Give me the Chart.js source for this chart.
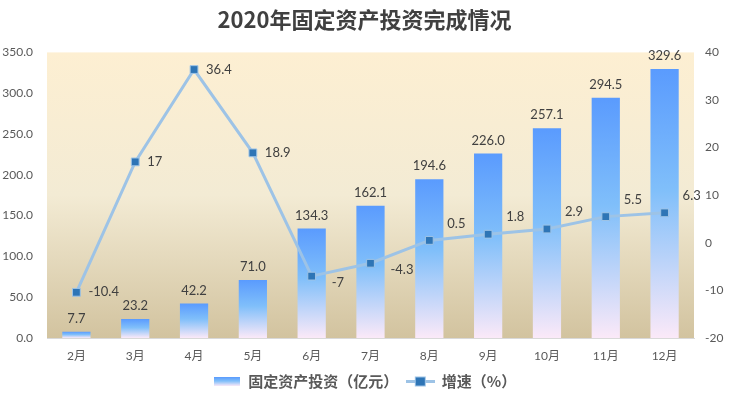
<!DOCTYPE html>
<html>
<head>
<meta charset="utf-8">
<script src="https://cdn.jsdelivr.net/npm/chart.js@4/dist/chart.umd.min.js"></script>
<style>
  html, body { margin: 0; padding: 0; background: #ffffff; }
  #wrap { width: 729px; height: 401px; }
</style>
</head>
<body>
<div id="wrap"><canvas id="chart" width="729" height="401"></canvas></div>
<script>
const months = ["2月", "3月", "4月", "5月", "6月", "7月", "8月", "9月", "10月", "11月", "12月"];
const investment = [7.7, 23.2, 42.2, 71.0, 134.3, 162.1, 194.6, 226.0, 257.1, 294.5, 329.6];
const growth = [-10.4, 17, 36.4, 18.9, -7, -4.3, 0.5, 1.8, 2.9, 5.5, 6.3];
const leftTicks = [0, 50, 100, 150, 200, 250, 300, 350];
const rightTicks = [-20, -10, 0, 10, 20, 30, 40];

const cjk = '"Noto Sans CJK SC", sans-serif';
const numFont = 'Lato, "Noto Sans CJK SC", sans-serif';

function barGradient(ctx, top, bottom) {
    const g = ctx.createLinearGradient(0, top, 0, bottom);
    g.addColorStop(0, "#5a9bfe");
    g.addColorStop(0.45, "#80bffa");
    g.addColorStop(1, "#fbe9f8");
    return g;
}

// legend swatches
function barSwatch() {
    const c = document.createElement("canvas");
    c.width = 26; c.height = 9;
    const x = c.getContext("2d");
    x.fillStyle = barGradient(x, 0, 9);
    x.fillRect(0, 0, 26, 9);
    return c;
}
function lineSwatch() {
    const c = document.createElement("canvas");
    c.width = 29; c.height = 11;
    const x = c.getContext("2d");
    x.strokeStyle = "#9dc3e6";
    x.lineWidth = 3;
    x.beginPath(); x.moveTo(0, 5.5); x.lineTo(29, 5.5); x.stroke();
    x.fillStyle = "#2e75b6";
    x.fillRect(9.5, 1, 10, 9);
    x.strokeStyle = "#9dc3e6"; x.lineWidth = 1;
    x.strokeRect(9.5, 1, 10, 9);
    return c;
}

const plotBackground = {
    id: "plotBackground",
    beforeDraw(chart) {
        const { ctx, chartArea } = chart;
        const g = ctx.createLinearGradient(0, chartArea.top, 0, chartArea.bottom);
        g.addColorStop(0, "#fdefd2");
        g.addColorStop(0.5, "#f3ebd4");
        g.addColorStop(1, "#d2c39f");
        ctx.save();
        ctx.fillStyle = g;
        ctx.fillRect(chartArea.left, chartArea.top, chartArea.right - chartArea.left, chartArea.bottom - chartArea.top);
        ctx.restore();
    }
};

const valueLabels = {
    id: "valueLabels",
    afterDatasetsDraw(chart) {
        const ctx = chart.ctx;
        ctx.save();
        ctx.font = "13px " + numFont;
        ctx.fillStyle = "#404040";
        ctx.textBaseline = "middle";
        chart.getDatasetMeta(0).data.forEach((bar, i) => {
            ctx.textAlign = "center";
            ctx.fillText(investment[i].toFixed(1), bar.x, bar.y - 13);
        });
        chart.getDatasetMeta(1).data.forEach((pt, i) => {
            ctx.textAlign = "left";
            let dx = 12, dy = 0;
            if (i >= 6) { dx = 18; dy = -17; }
            else if (i >= 4) { dx = 20; dy = 7; }
            ctx.fillText(String(growth[i]), pt.x + dx, pt.y + dy);
        });
        ctx.restore();
    }
};

new Chart(document.getElementById("chart"), {
    data: {
        labels: months,
        datasets: [
            {
                type: "bar",
                label: "固定资产投资（亿元）",
                data: investment,
                yAxisID: "y",
                order: 2,
                barPercentage: 0.48,
                categoryPercentage: 1,
                backgroundColor: (c) => {
                    const chart = c.chart;
                    if (!chart.chartArea || c.raw === undefined) return "#5a9bfe";
                    const y = chart.scales.y;
                    return barGradient(chart.ctx, y.getPixelForValue(c.raw), y.getPixelForValue(0));
                }
            },
            {
                type: "line",
                label: "增速（%）",
                data: growth,
                yAxisID: "y1",
                order: 1,
                borderColor: "#9dc3e6",
                borderWidth: 3,
                tension: 0,
                pointStyle: "rect",
                pointRadius: 5.5,
                pointBackgroundColor: "#2e75b6",
                pointBorderColor: "#9dc3e6",
                pointBorderWidth: 1
            }
        ]
    },
    options: {
        responsive: false,
        animation: false,
        layout: { padding: { left: 0, right: 0, top: 0, bottom: 2 } },
        plugins: {
            tooltip: { enabled: false },
            title: {
                display: true,
                text: "2020年固定资产投资完成情况",
                color: "#404040",
                font: { family: cjk, size: 22, weight: "bold" },
                padding: { top: 6, bottom: 20 }
            },
            legend: {
                position: "bottom",
                labels: {
                    usePointStyle: true,
                    pointStyleWidth: 28,
                    boxHeight: 11,
                    padding: 8,
                    color: "#595959",
                    font: { family: cjk, size: 15, weight: "bold" },
                    generateLabels: () => [
                        { text: "固定资产投资（亿元）", pointStyle: barSwatch(), datasetIndex: 0, fontColor: "#595959", lineWidth: 0 },
                        { text: "增速（%）", pointStyle: lineSwatch(), datasetIndex: 1, fontColor: "#595959", lineWidth: 0 }
                    ]
                }
            }
        },
        scales: {
            x: {
                grid: { display: false, drawTicks: false },
                border: { display: true, color: "#d9d9d9", width: 1 },
                afterFit: (s) => { s.height = 28; },
                ticks: { color: "#595959", font: { family: numFont, size: 12 }, padding: 11 }
            },
            y: {
                position: "left",
                min: 0, max: 350,
                afterBuildTicks: (s) => { s.ticks = leftTicks.map(v => ({ value: v })); },
                afterFit: (s) => { s.width = 47; },
                grid: { display: false, drawTicks: false },
                border: { display: false },
                ticks: { color: "#595959", font: { family: numFont, size: 12 }, padding: 14, callback: (v) => v.toFixed(1) }
            },
            y1: {
                position: "right",
                min: -20, max: 40,
                afterBuildTicks: (s) => { s.ticks = rightTicks.map(v => ({ value: v })); },
                afterFit: (s) => { s.width = 35; },
                grid: { display: false, drawTicks: false },
                border: { display: false },
                ticks: { color: "#595959", font: { family: numFont, size: 12 }, padding: 11 }
            }
        }
    },
    plugins: [plotBackground, valueLabels]
});
</script>
</body>
</html>
